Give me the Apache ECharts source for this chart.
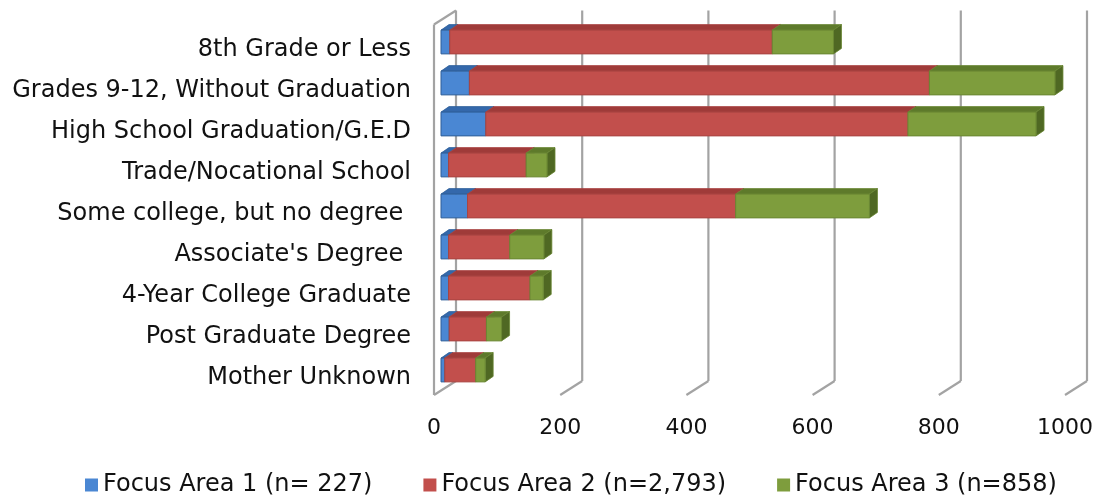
<!DOCTYPE html>
<html>
<head>
<meta charset="utf-8">
<script src="https://cdn.jsdelivr.net/npm/echarts@6/dist/echarts.min.js"></script>
<style>
  html, body { margin: 0; padding: 0; background: #fff; }
  #chart { width: 1099px; height: 500px; }
</style>
</head>
<body>
<div id="chart"></div>
<script>
// Education level of mother, counts per focus area
const categories = [
  '8th Grade or Less',
  'Grades 9-12, Without Graduation',
  'High School Graduation/G.E.D',
  'Trade/Nocational School',
  'Some college, but no degree ',
  "Associate's Degree ",
  '4-Year College Graduate',
  'Post Graduate Degree',
  'Mother Unknown'
];
const seriesNames = ['Focus Area 1 (n= 227)', 'Focus Area 2 (n=2,793)', 'Focus Area 3 (n=858)'];
const focusArea1 = [14, 45, 71, 12, 42, 12, 12, 13, 6];
const focusArea2 = [511, 729, 669, 123, 425, 97, 129, 59, 49];
const focusArea3 = [97, 199, 203, 33, 212, 54, 21, 24, 15];
const xTicks = [0, 200, 400, 600, 800, 1000];

const FONT = 'DejaVu Sans';
const palette = [
  { front: '#4a87d3', top: '#3468ab', side: '#2d5d9a', line: '#2f5f99' },
  { front: '#c24f4c', top: '#9f3b39', side: '#8c3331', line: '#a94542' },
  { front: '#7e9d3d', top: '#5e7a2b', side: '#4f6823', line: '#6a8733' }
];

// box depth for the bars and for the chart walls
const BAR_DX = 8, BAR_DY = -5.5;
const BACK_DX = 15, BACK_DY = -9.5;
const FRONT_DX = -7, FRONT_DY = 4.5;

// stacked segments: [start, end, categoryIndex]
const layers = [focusArea1, focusArea2, focusArea3];
const stackedData = [];
const running = categories.map(() => 0);
layers.forEach((vals) => {
  const rows = vals.map((v, i) => {
    const s = running[i];
    running[i] += v;
    return [s, s + v, i];
  });
  stackedData.push(rows);
});

function barRenderer(k) {
  const col = palette[k];
  return function (params, api) {
    const c = api.value(2);
    const p0 = api.coord([api.value(0), c]);
    const p1 = api.coord([api.value(1), c]);
    const h = api.size([0, 1])[1] * 0.58;
    const x0 = p0[0], x1 = p1[0];
    const yT = p0[1] - h / 2, yB = p0[1] + h / 2;
    return {
      type: 'group',
      children: [
        {
          type: 'polygon',
          shape: { points: [[x0, yT], [x0 + BAR_DX, yT + BAR_DY], [x1 + BAR_DX, yT + BAR_DY], [x1, yT]] },
          style: { fill: col.top, stroke: col.line, lineWidth: 0.8 }
        },
        {
          type: 'polygon',
          shape: { points: [[x1, yT], [x1 + BAR_DX, yT + BAR_DY], [x1 + BAR_DX, yB + BAR_DY], [x1, yB]] },
          style: { fill: col.side, stroke: col.line, lineWidth: 0.8 }
        },
        {
          type: 'rect',
          shape: { x: x0, y: yT, width: x1 - x0, height: h },
          style: { fill: col.front, stroke: col.line, lineWidth: 1 }
        }
      ]
    };
  };
}

function wallRenderer(params, api) {
  const v = api.value(0);
  const px = api.coord([v, 0])[0];
  const cs = params.coordSys;
  const top = cs.y, bottom = cs.y + cs.height;
  const bx = px + BACK_DX, fx = px + FRONT_DX;
  const bTop = top + BACK_DY - 1.5, bBot = bottom + BACK_DY;
  const fTop = top + FRONT_DY - 1.5, fBot = bottom + FRONT_DY;
  const style = { stroke: '#a3a3a3', lineWidth: 2.2, fill: null };
  const children = [
    { type: 'line', shape: { x1: bx, y1: bTop, x2: bx, y2: bBot }, style },
    { type: 'line', shape: { x1: bx, y1: bBot, x2: fx, y2: fBot }, style }
  ];
  if (v === 0) {
    children.push({ type: 'line', shape: { x1: fx, y1: fTop, x2: fx, y2: fBot }, style });
    children.push({ type: 'line', shape: { x1: fx, y1: fTop, x2: bx, y2: bTop }, style });
  }
  return { type: 'group', children };
}

const chart = echarts.init(document.getElementById('chart'), null, { renderer: 'canvas' });

const series = [
  {
    name: 'walls',
    type: 'custom',
    renderItem: wallRenderer,
    data: xTicks.map((v) => [v, 0]),
    encode: { x: 0, y: 1 },
    silent: true,
    z: 1
  }
];
seriesNames.forEach((name, k) => {
  series.push({
    name,
    type: 'custom',
    renderItem: barRenderer(k),
    data: stackedData[k],
    encode: { x: [0, 1], y: 2 },
    itemStyle: { color: palette[k].front, borderColor: palette[k].line },
    z: 2 + k
  });
});

chart.setOption({
  animation: false,
  backgroundColor: '#ffffff',
  grid: { left: 441, right: 27, top: 21.5, bottom: 109.5, containLabel: false },
  xAxis: {
    type: 'value',
    min: 0,
    max: 1000,
    interval: 200,
    axisLine: { show: false },
    axisTick: { show: false },
    splitLine: { show: false },
    axisLabel: {
      color: '#111',
      fontFamily: FONT,
      fontSize: 22,
      margin: 27,
      padding: [0, 14, 0, 0],
      formatter: (v) => String(v)
    }
  },
  yAxis: {
    type: 'category',
    inverse: true,
    data: categories,
    axisLine: { show: false },
    axisTick: { show: false },
    splitLine: { show: false },
    axisLabel: {
      margin: 30,
      formatter: (v) => '{c|' + v + '}',
      rich: {
        c: {
          color: '#111',
          fontFamily: FONT,
          fontSize: 24,
          padding: [16, 0, 0, 0]
        }
      }
    }
  },
  legend: {
    data: seriesNames,
    left: 80,
    top: 468,
    icon: 'rect',
    itemWidth: 13,
    itemHeight: 13,
    itemGap: 51,
    textStyle: { color: '#111', fontFamily: FONT, fontSize: 24 }
  },
  series
});
</script>
</body>
</html>
